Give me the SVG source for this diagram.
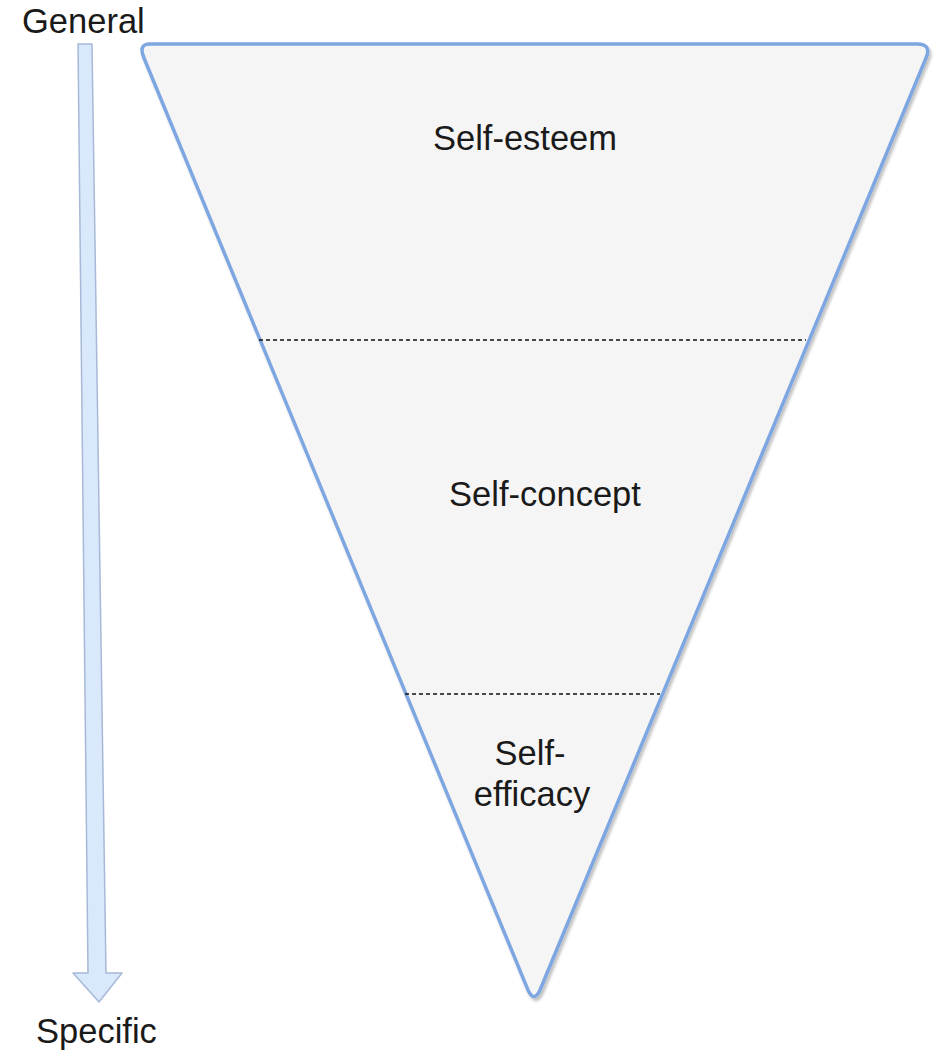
<svg xmlns="http://www.w3.org/2000/svg" width="935" height="1058" viewBox="0 0 935 1058">
<style>
.t{font-family:"Liberation Sans",Arial,sans-serif;font-size:34.5px;fill:#1a1a1a}
.div{stroke:#111;stroke-width:1.4;stroke-dasharray:4 3;fill:none}
</style>
<defs>
<filter id="sh" x="-10%" y="-10%" width="120%" height="120%">
<feGaussianBlur in="SourceAlpha" stdDeviation="1.5"/>
<feOffset dx="2" dy="3" result="b"/>
<feComponentTransfer><feFuncA type="linear" slope="0.25"/></feComponentTransfer>
<feMerge><feMergeNode/><feMergeNode in="SourceGraphic"/></feMerge>
</filter>
</defs>
<rect width="935" height="1058" fill="#ffffff"/>
<g id="axis">
<polygon points="78,44 92,44 106,973 122,973 99,1002 73,973 88,973" fill="#dae8fc" stroke="#a7b9d6" stroke-width="1.5" stroke-linejoin="round"/>
<text class="t" x="22" y="33">General</text>
<text class="t" x="36" y="1043">Specific</text>
</g>
<g id="pyramid">
<path d="M150,44 L917,44 Q932,44 926,58 L540,990 Q534,1003 528,990 L144,58 Q138,44 150,44 Z" fill="#f5f5f5" stroke="#7ea6e0" stroke-width="3.5" stroke-linejoin="round" filter="url(#sh)"/>
</g>
<g id="connectors">
<line class="div" x1="259" y1="340" x2="806" y2="340"/>
<line class="div" x1="405" y1="694" x2="660" y2="694"/>
</g>
<g id="self-esteem"><text class="t" x="525" y="150" text-anchor="middle">Self-esteem</text></g>
<g id="self-concept"><text class="t" x="545" y="506" text-anchor="middle">Self-concept</text></g>
<g id="self-efficacy"><text class="t" text-anchor="middle"><tspan x="530" y="765">Self-</tspan><tspan x="532" y="806">efficacy</tspan></text></g>
</svg>
